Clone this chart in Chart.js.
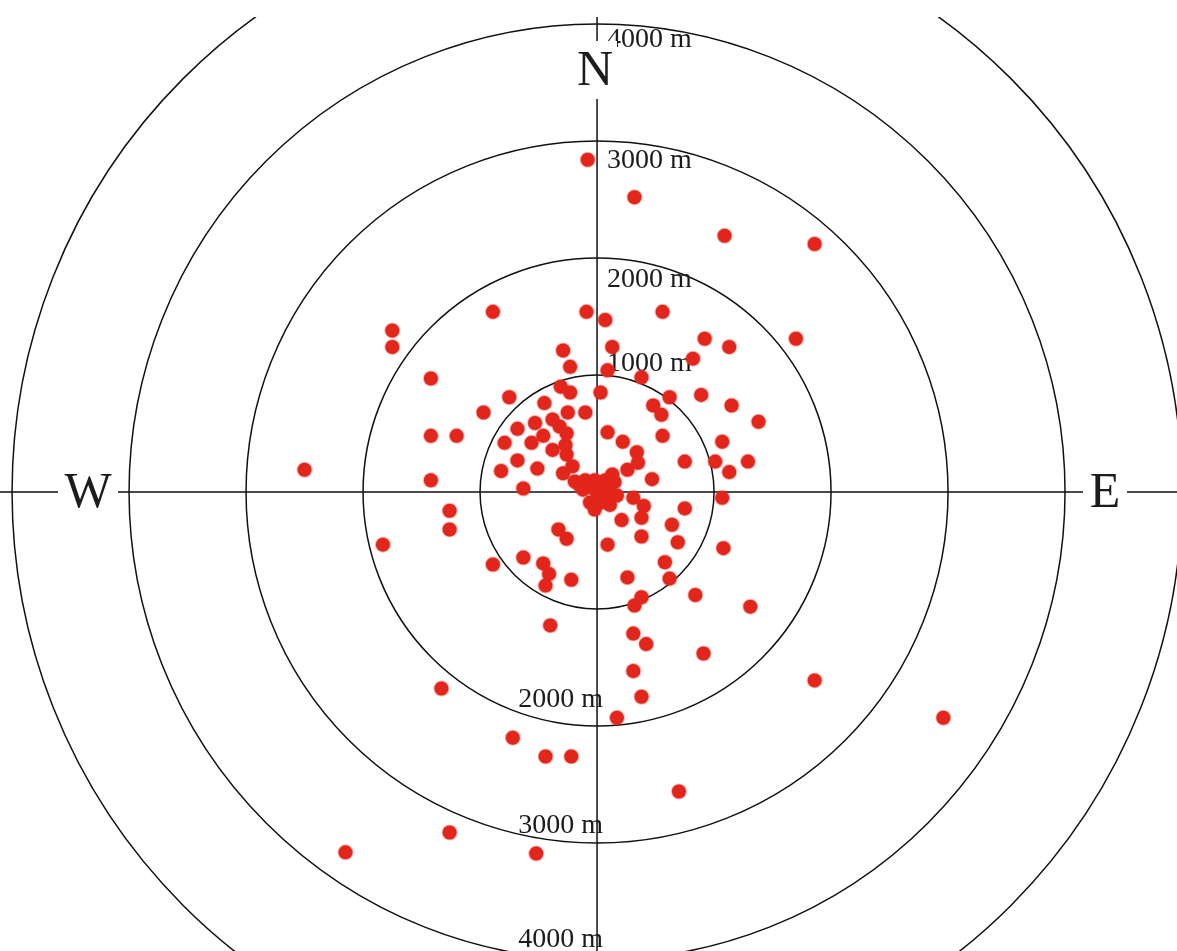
<!DOCTYPE html>
<html>
<head>
<meta charset="utf-8">
<script src="https://cdn.jsdelivr.net/npm/chart.js@4.4.0/dist/chart.umd.min.js"></script>
<style>
html, body { margin: 0; padding: 0; background: #fff; }
#wrap { width: 1177px; height: 951px; }
</style>
</head>
<body>
<div id="wrap"><canvas id="target"></canvas></div>
<script>
// Distancias de cada punto al centro (metros): este (+) / oeste (-), norte (+) / sur (-)
const eastM = [
    -80, 320, 1090, 1860, 1700, -2500, -1750, -1750, -890, -90,
    70, 560, 920, 1130, 130, -290, 820, -230, 90, 380,
    -1420, -310, -230, 30, 620, 890, -750, -450, 480, 550,
    1150, -970, -250, -100, 1380, -530, -680, -1420, -1200, -460,
    -260, -320, 90, 220, 560, 340, 1070, -790, -560, -380,
    -260, 350, 260, 750, 1010, 1130, 1290, -680, -510, -820,
    -210, -290, -1420, 470, -630, -190, 1070, 310, 400, 380,
    210, 750, 640, 690, 380, 90, 1080, 580, 620, 260,
    380, 320, 840, 1310, 310, 420, 910, 310, 380, 170,
    1860, 2960, 700, -1260, -1260, -1830, -330, -260, -630, -890,
    -460, -410, -440, -220, -400, -1330, -720, -440, -220, -1260,
    -2150, -520, -270, -380,
    // nube del centro
    -100, -20, 70, 150, -120, 0, 90, 170, -60, 30,
    110, -20, -150, 130, 40, -50, 60
];
const northM = [
    2840, 2520, 2190, 2120, 1310, 190, 1380, 1240, 1540, 1540,
    1470, 1540, 1310, 1240, 1240, 1210, 1140, 1070, 1040, 980,
    970, 900, 850, 850, 810, 830, 810, 760, 740, 660,
    740, 680, 680, 680, 600, 590, 540, 480, 480, 480,
    500, 560, 510, 430, 480, 340, 430, 420, 420, 360,
    320, 250, 190, 260, 260, 170, 260, 270, 200, 180,
    220, 160, 100, 110, 30, 90, -50, -50, -120, -220,
    -240, -140, -280, -430, -380, -450, -480, -600, -740, -730,
    -900, -970, -880, -980, -1210, -1300, -1380, -1530, -1750, -1930,
    -1610, -1930, -2560, -160, -320, -450, -320, -400, -560, -620,
    -610, -700, -800, -750, -1140, -1680, -2100, -2260, -2260, -2910,
    -3080, -3090, 400, 620,
    // nube del centro
    100, 100, 100, 85, 20, 0, 10, -30, -90, -90,
    -110, -150, 60, 150, 50, 40, -40
];

// Círculos de distancia y sus etiquetas
const ringRadii = [1000, 2000, 3000, 4000, 5000];
const ringLabels = ['1000 m', '2000 m', '3000 m', '4000 m'];
const compassLabels = { north: 'N', east: 'E', west: 'W' };

const points = eastM.map((x, i) => ({ x: x, y: northM[i] }));

// Plugin que dibuja los círculos, los ejes y los textos
const targetPlugin = {
    id: 'targetPlugin',
    beforeDatasetsDraw(chart) {
        const ctx = chart.ctx;
        const area = chart.chartArea;
        const xs = chart.scales.x;
        const ys = chart.scales.y;
        const cx = xs.getPixelForValue(0);
        const cy = ys.getPixelForValue(0);

        ctx.save();
        ctx.beginPath();
        ctx.rect(area.left, area.top, area.right - area.left, area.bottom - area.top);
        ctx.clip();

        ctx.strokeStyle = '#111';
        ctx.lineWidth = 1.5;
        ringRadii.forEach(r => {
            const rp = xs.getPixelForValue(r) - cx;
            ctx.beginPath();
            ctx.arc(cx, cy, rp, 0, Math.PI * 2);
            ctx.stroke();
        });

        // ejes
        ctx.beginPath();
        ctx.moveTo(area.left, cy);
        ctx.lineTo(area.right, cy);
        ctx.moveTo(cx, area.top);
        ctx.lineTo(cx, area.bottom);
        ctx.stroke();

        // etiquetas de distancia
        ctx.fillStyle = '#1c1c1c';
        ctx.font = '28px "Liberation Serif", "DejaVu Serif", serif';
        ctx.textBaseline = 'alphabetic';
        const upOffset = [-4, 29, 27, 23];
        const downOffset = [0, -19, -10, -13];
        ringLabels.forEach((label, i) => {
            const r = ringRadii[i];
            ctx.textAlign = 'left';
            ctx.fillText(label, cx + 10, ys.getPixelForValue(r) + upOffset[i]);
            if (i > 0) {
                ctx.textAlign = 'right';
                ctx.fillText(label, cx + 6, ys.getPixelForValue(-r) + downOffset[i]);
            }
        });

        // puntos cardinales con fondo blanco
        ctx.font = '50px "Liberation Serif", "DejaVu Serif", serif';
        ctx.textAlign = 'center';
        ctx.textBaseline = 'middle';
        const letters = [
            [compassLabels.north, cx - 2, area.top + 53, 44, 58],
            [compassLabels.west, area.left + 88, cy, 60, 44],
            [compassLabels.east, area.left + 1105, cy, 44, 44]
        ];
        letters.forEach(([t, x, y, w, h]) => {
            ctx.fillStyle = '#fff';
            ctx.fillRect(x - w / 2, y - h / 2, w, h);
            ctx.fillStyle = '#1c1c1c';
            ctx.fillText(t, x, y + 2);
        });

        ctx.restore();
    }
};

const ctx = document.getElementById('target').getContext('2d');
const chart = new Chart(ctx, {
    type: 'scatter',
    data: {
        datasets: [{
            data: points,
            backgroundColor: '#e3261b',
            borderColor: 'rgba(227, 38, 27, 0.35)',
            borderWidth: 2,
            pointRadius: 7,
            pointHoverRadius: 7
        }]
    },
    options: {
        responsive: true,
        maintainAspectRatio: false,
        animation: false,
        layout: {
            autoPadding: false,
            padding: { top: 17, left: 0, right: 0, bottom: 0 }
        },
        scales: {
            x: { type: 'linear', min: -5103, max: 4957, display: false },
            y: { type: 'linear', min: -3923, max: 4060, display: false }
        },
        plugins: {
            legend: { display: false },
            tooltip: { enabled: false }
        }
    },
    plugins: [targetPlugin]
});
</script>
</body>
</html>
